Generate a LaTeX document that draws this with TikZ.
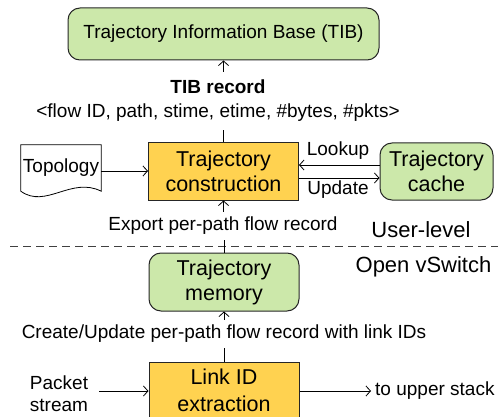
\documentclass[tikz,border=0pt]{standalone}
\usepackage{fontspec}
\setmainfont{Liberation Sans}
\usetikzlibrary{arrows.meta}
\definecolor{boxorange}{RGB}{255,210,80}
\definecolor{boxgreen}{RGB}{204,232,170}
\begin{document}
\begin{tikzpicture}[x=1pt,y=-1pt,
  >={Straight Barb[length=4.5pt,width=10pt]},
  arr/.style={->, line width=0.8pt},
  ln/.style={line width=0.8pt},
  ybox/.style={draw=black!85, line width=1pt, fill=boxorange, minimum width=150pt, minimum height=57pt, align=center, font=\fontsize{21.5}{25}\selectfont, inner sep=0pt},
  gbox/.style={draw=black!85, line width=1pt, fill=boxgreen, rounded corners=12pt, minimum height=57pt, align=center, font=\fontsize{21.5}{25}\selectfont, inner sep=0pt},
  lbl/.style={font=\fontsize{19}{24}\selectfont, inner sep=0pt, align=center},
  big/.style={font=\fontsize{22}{26}\selectfont, inner sep=0pt},
  dashline/.style={line width=0.8pt, black!75, dash pattern=on 8pt off 5pt},
]
\useasboundingbox (0,0) rectangle (498,417);

\node[gbox, minimum width=311pt, minimum height=52pt, font=\fontsize{19}{23}\selectfont] (tib) at (223.5,34) {Trajectory Information Base (TIB)};
\node[lbl, inner ysep=8pt] (rec) at (218,101) {\textbf{TIB record}\\<flow ID, path, stime, etime, \#bytes, \#pkts>};

\node[ybox] (constr) at (223.5,171.5) {Trajectory\\construction};
\node[gbox, minimum width=113pt] (cache) at (436.5,171.5) {Trajectory\\cache};
\node[gbox, minimum width=150pt, minimum height=58pt] (mem) at (224,282) {Trajectory\\memory};
\node[ybox, minimum height=56pt, font=\fontsize{21.5}{27}\selectfont] (link) at (224,390) {Link ID\\extraction};

\node[lbl, minimum width=80pt, minimum height=46pt] (topo) at (61,168) {Topology};
\draw[line width=0.8pt] (topo.north west) -- (topo.south west) .. controls +(25,18) and +(-30,-15) .. (topo.south east) -- (topo.north east) -- cycle;

\node[lbl] (lookup) at (338,151) {Lookup};
\node[lbl] (update) at (338,190) {Update};
\node[lbl, inner ysep=5pt] (export) at (223,226) {Export per-path flow record};
\node[lbl, inner ysep=5pt] (create) at (224,334) {Create/Update per-path flow record with link IDs};
\node[lbl, font=\fontsize{19}{22}\selectfont, inner xsep=11pt] (pkt) at (59,394) {Packet\\stream};
\node[lbl, anchor=west, inner xsep=4pt] (up) at (371,391) {to upper stack};

\node[big] (ul) at (421,230) {User-level};
\node[big] (ovs) at (423.5,267) {Open vSwitch};

\draw[dashline] (10,246) -- (498,246);

\draw[arr] (rec.north -| tib.south) -- (tib.south);
\draw[ln] (rec.south -| constr.north) -- (constr.north);
\draw[arr] ([yshift=-3pt]topo.east) -- ([yshift=-3pt]topo.east -| constr.west);
\draw[arr] ([yshift=6.5pt]cache.west) -- ([yshift=6.5pt]constr.east);
\draw[arr] ([yshift=-6.5pt]constr.east) -- ([yshift=-6.5pt]cache.west);
\draw[arr] (export.north -| constr.south) -- (constr.south);
\draw[ln] (export.south -| mem.north) -- (mem.north);
\draw[arr] (create.north -| mem.south) -- (mem.south);
\draw[ln] (create.south -| link.north) -- (link.north);
\draw[arr] (pkt.east |- 0,391) -- (link.west |- 0,391);
\draw[arr] (link.east |- 0,391) -- (up.west |- 0,391);
\end{tikzpicture}
\end{document}
